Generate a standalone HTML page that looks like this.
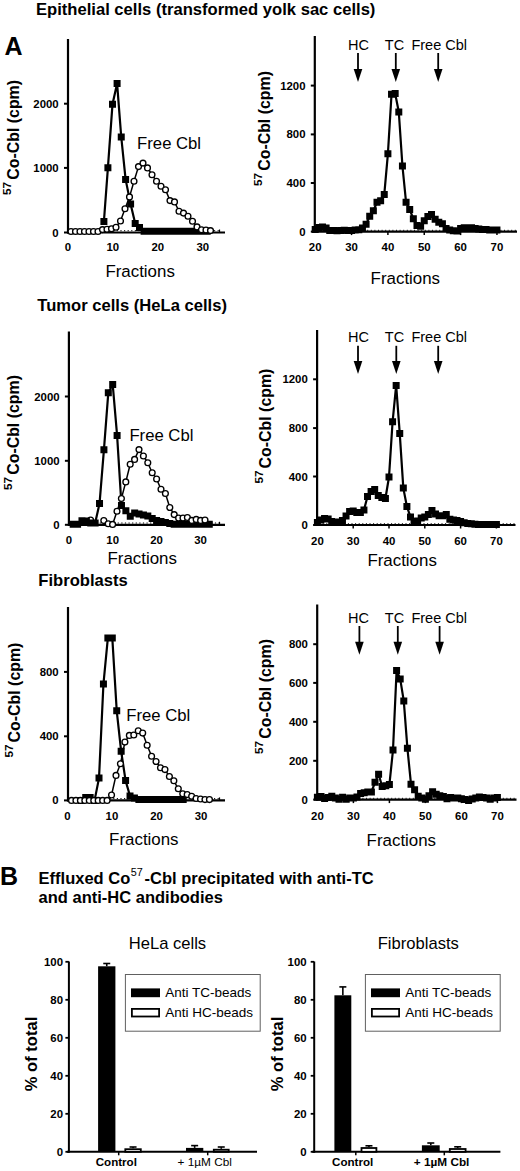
<!DOCTYPE html>
<html><head><meta charset="utf-8"><style>
html,body{margin:0;padding:0;background:#fff;}
body{width:520px;height:1171px;overflow:hidden;}
svg{display:block;font-family:"Liberation Sans", sans-serif;}
text{fill:#000;}
</style></head><body>
<svg width="520" height="1171" viewBox="0 0 520 1171">
<rect width="520" height="1171" fill="#fff"/>
<text x="36" y="14.5" font-size="16.6" font-weight="bold" text-anchor="start" >Epithelial cells (transformed yolk sac cells)</text>
<text x="4.5" y="54.6" font-size="25" font-weight="bold" text-anchor="start" >A</text>
<text x="37.3" y="311.2" font-size="16.6" font-weight="bold" text-anchor="start" >Tumor cells (HeLa cells)</text>
<text x="38.3" y="585.7" font-size="16.6" font-weight="bold" text-anchor="start" >Fibroblasts</text>
<line x1="68" y1="39" x2="68" y2="233.5" stroke="#000" stroke-width="2.2" />
<line x1="67" y1="232.5" x2="225" y2="232.5" stroke="#000" stroke-width="2.2" />
<line x1="219.5" y1="232.5" x2="219.5" y2="229.5" stroke="#000" stroke-width="1.2" />
<line x1="70" y1="230.7" x2="220" y2="230.7" stroke="#000" stroke-width="1" stroke-dasharray="1.2 2.4"/>
<line x1="64" y1="232.5" x2="68" y2="232.5" stroke="#000" stroke-width="2" />
<text x="58.7" y="236.5" font-size="11.4" font-weight="bold" text-anchor="end" >0</text>
<line x1="64" y1="167.9" x2="68" y2="167.9" stroke="#000" stroke-width="2" />
<text x="58.7" y="171.9" font-size="11.4" font-weight="bold" text-anchor="end" >1000</text>
<line x1="64" y1="103.7" x2="68" y2="103.7" stroke="#000" stroke-width="2" />
<text x="58.7" y="107.7" font-size="11.4" font-weight="bold" text-anchor="end" >2000</text>
<text x="67.8" y="251" font-size="11.4" font-weight="bold" text-anchor="middle" >0</text>
<text x="112.8" y="251" font-size="11.4" font-weight="bold" text-anchor="middle" >10</text>
<text x="157.8" y="251" font-size="11.4" font-weight="bold" text-anchor="middle" >20</text>
<text x="202.8" y="251" font-size="11.4" font-weight="bold" text-anchor="middle" >30</text>
<text x="105.4" y="276.5" font-size="16.9" font-weight="normal" text-anchor="start" >Fractions</text>
<text transform="translate(18.9,179.7) rotate(-90)" font-size="15.9" font-weight="bold" text-anchor="start">Co-Cbl (cpm)</text>
<text transform="translate(11.3,194.9) rotate(-90)" font-size="11.7" font-weight="bold" text-anchor="start">57</text>
<text x="137.1" y="148.5" font-size="16.7" font-weight="normal" text-anchor="start" >Free Cbl</text>
<polyline points="103.9,221.5 107.9,167.8 112.5,104.2 117.1,83.6 121.25,137 125.6,179.4 130.6,204.1 135.2,223.5 139.5,227.5 144.1,231.3 148.6,231.3 153.1,231.3 157.6,231.3 162.1,231.3 166.6,231.3 171.1,231.3 175.6,231.3 180.1,231.3 184.6,231.3 189.1,231.3 193.6,231.3 198.1,231.3 202.6,231.3 207.1,231.3" fill="none" stroke="#000" stroke-width="2.2" stroke-linejoin="round"/>
<path d="M100.4 218h7v7h-7zM104.4 164.3h7v7h-7zM109 100.7h7v7h-7zM113.6 80.1h7v7h-7zM117.75 133.5h7v7h-7zM122.1 175.9h7v7h-7zM127.1 200.6h7v7h-7zM131.7 220h7v7h-7zM136 224h7v7h-7zM140.6 227.8h7v7h-7zM145.1 227.8h7v7h-7zM149.6 227.8h7v7h-7zM154.1 227.8h7v7h-7zM158.6 227.8h7v7h-7zM163.1 227.8h7v7h-7zM167.6 227.8h7v7h-7zM172.1 227.8h7v7h-7zM176.6 227.8h7v7h-7zM181.1 227.8h7v7h-7zM185.6 227.8h7v7h-7zM190.1 227.8h7v7h-7zM194.6 227.8h7v7h-7zM199.1 227.8h7v7h-7zM203.6 227.8h7v7h-7z" fill="#000"/>
<polyline points="71,231.5 75.5,231.5 80,231.5 84.5,231.5 89,231.5 93.5,231.5 98,231.5 102.5,229.6 107,229.2 111.5,228.8 116,227.2 120.5,221 125,208.75 129.5,196.9 134,181.25 138.5,166.6 143,163.1 147.5,167.9 152,174.75 156.5,181.25 161,186.25 165.5,189.75 170,200.6 174.5,201.9 179,211.25 183.5,213.1 188,216.25 192.5,221.25 197,226.9 201.5,229.75 206,230 210.5,230.6" fill="none" stroke="#000" stroke-width="1.5" stroke-linejoin="round"/>
<circle cx="71" cy="231.5" r="2.9" fill="#fff" stroke="#000" stroke-width="1.35"/>
<circle cx="75.5" cy="231.5" r="2.9" fill="#fff" stroke="#000" stroke-width="1.35"/>
<circle cx="80" cy="231.5" r="2.9" fill="#fff" stroke="#000" stroke-width="1.35"/>
<circle cx="84.5" cy="231.5" r="2.9" fill="#fff" stroke="#000" stroke-width="1.35"/>
<circle cx="89" cy="231.5" r="2.9" fill="#fff" stroke="#000" stroke-width="1.35"/>
<circle cx="93.5" cy="231.5" r="2.9" fill="#fff" stroke="#000" stroke-width="1.35"/>
<circle cx="98" cy="231.5" r="2.9" fill="#fff" stroke="#000" stroke-width="1.35"/>
<circle cx="102.5" cy="229.6" r="2.9" fill="#fff" stroke="#000" stroke-width="1.35"/>
<circle cx="107" cy="229.2" r="2.9" fill="#fff" stroke="#000" stroke-width="1.35"/>
<circle cx="111.5" cy="228.8" r="2.9" fill="#fff" stroke="#000" stroke-width="1.35"/>
<circle cx="116" cy="227.2" r="2.9" fill="#fff" stroke="#000" stroke-width="1.35"/>
<circle cx="120.5" cy="221" r="2.9" fill="#fff" stroke="#000" stroke-width="1.35"/>
<circle cx="125" cy="208.75" r="2.9" fill="#fff" stroke="#000" stroke-width="1.35"/>
<circle cx="129.5" cy="196.9" r="2.9" fill="#fff" stroke="#000" stroke-width="1.35"/>
<circle cx="134" cy="181.25" r="2.9" fill="#fff" stroke="#000" stroke-width="1.35"/>
<circle cx="138.5" cy="166.6" r="2.9" fill="#fff" stroke="#000" stroke-width="1.35"/>
<circle cx="143" cy="163.1" r="2.9" fill="#fff" stroke="#000" stroke-width="1.35"/>
<circle cx="147.5" cy="167.9" r="2.9" fill="#fff" stroke="#000" stroke-width="1.35"/>
<circle cx="152" cy="174.75" r="2.9" fill="#fff" stroke="#000" stroke-width="1.35"/>
<circle cx="156.5" cy="181.25" r="2.9" fill="#fff" stroke="#000" stroke-width="1.35"/>
<circle cx="161" cy="186.25" r="2.9" fill="#fff" stroke="#000" stroke-width="1.35"/>
<circle cx="165.5" cy="189.75" r="2.9" fill="#fff" stroke="#000" stroke-width="1.35"/>
<circle cx="170" cy="200.6" r="2.9" fill="#fff" stroke="#000" stroke-width="1.35"/>
<circle cx="174.5" cy="201.9" r="2.9" fill="#fff" stroke="#000" stroke-width="1.35"/>
<circle cx="179" cy="211.25" r="2.9" fill="#fff" stroke="#000" stroke-width="1.35"/>
<circle cx="183.5" cy="213.1" r="2.9" fill="#fff" stroke="#000" stroke-width="1.35"/>
<circle cx="188" cy="216.25" r="2.9" fill="#fff" stroke="#000" stroke-width="1.35"/>
<circle cx="192.5" cy="221.25" r="2.9" fill="#fff" stroke="#000" stroke-width="1.35"/>
<circle cx="197" cy="226.9" r="2.9" fill="#fff" stroke="#000" stroke-width="1.35"/>
<circle cx="201.5" cy="229.75" r="2.9" fill="#fff" stroke="#000" stroke-width="1.35"/>
<circle cx="206" cy="230" r="2.9" fill="#fff" stroke="#000" stroke-width="1.35"/>
<circle cx="210.5" cy="230.6" r="2.9" fill="#fff" stroke="#000" stroke-width="1.35"/>
<line x1="68.9" y1="331.5" x2="68.9" y2="525.8" stroke="#000" stroke-width="2.2" />
<line x1="67.9" y1="524.8" x2="225" y2="524.8" stroke="#000" stroke-width="2.2" />
<line x1="219.5" y1="524.8" x2="219.5" y2="521.8" stroke="#000" stroke-width="1.2" />
<line x1="70.9" y1="523" x2="220" y2="523" stroke="#000" stroke-width="1" stroke-dasharray="1.2 2.4"/>
<line x1="64.9" y1="524.8" x2="68.9" y2="524.8" stroke="#000" stroke-width="2" />
<text x="59.6" y="528.8" font-size="11.4" font-weight="bold" text-anchor="end" >0</text>
<line x1="64.9" y1="460.8" x2="68.9" y2="460.8" stroke="#000" stroke-width="2" />
<text x="59.6" y="464.8" font-size="11.4" font-weight="bold" text-anchor="end" >1000</text>
<line x1="64.9" y1="396.5" x2="68.9" y2="396.5" stroke="#000" stroke-width="2" />
<text x="59.6" y="400.5" font-size="11.4" font-weight="bold" text-anchor="end" >2000</text>
<text x="68.8" y="543.8" font-size="11.4" font-weight="bold" text-anchor="middle" >0</text>
<text x="112.7" y="543.8" font-size="11.4" font-weight="bold" text-anchor="middle" >10</text>
<text x="156.6" y="543.8" font-size="11.4" font-weight="bold" text-anchor="middle" >20</text>
<text x="200.5" y="543.8" font-size="11.4" font-weight="bold" text-anchor="middle" >30</text>
<text x="107.5" y="563.8" font-size="16.9" font-weight="normal" text-anchor="start" >Fractions</text>
<text transform="translate(19.2,474.8) rotate(-90)" font-size="15.9" font-weight="bold" text-anchor="start">Co-Cbl (cpm)</text>
<text transform="translate(11.6,490) rotate(-90)" font-size="11.7" font-weight="bold" text-anchor="start">57</text>
<text x="129.4" y="441.1" font-size="16.7" font-weight="normal" text-anchor="start" >Free Cbl</text>
<circle cx="90.6" cy="520" r="2.9" fill="#fff" stroke="#000" stroke-width="1.35"/>
<polyline points="73.19,524.2 77.58,524.2 81.97,520.7 86.36,521 90.75,523 95.14,523 99.53,503.6 103.92,449.8 108.31,392.7 112.7,384.4 117.09,435.4 121.48,505.5 125.87,510.8 130.26,516.3 134.65,513.1 139.04,514 143.43,515 147.82,516 152.21,518.6 156.6,520.5 160.99,521.5 165.38,522.5 169.77,523.5 174.16,524.2 178.55,524.2 182.94,524.2 187.33,524.2 191.72,524.2 196.11,524.2 200.5,524.2 204.89,524.2 209.28,524.2" fill="none" stroke="#000" stroke-width="2.2" stroke-linejoin="round"/>
<path d="M69.69 520.7h7v7h-7zM74.08 520.7h7v7h-7zM78.47 517.2h7v7h-7zM82.86 517.5h7v7h-7zM87.25 519.5h7v7h-7zM91.64 519.5h7v7h-7zM96.03 500.1h7v7h-7zM100.42 446.3h7v7h-7zM104.81 389.2h7v7h-7zM109.2 380.9h7v7h-7zM113.59 431.9h7v7h-7zM117.98 502h7v7h-7zM122.37 507.3h7v7h-7zM126.76 512.8h7v7h-7zM131.15 509.6h7v7h-7zM135.54 510.5h7v7h-7zM139.93 511.5h7v7h-7zM144.32 512.5h7v7h-7zM148.71 515.1h7v7h-7zM153.1 517h7v7h-7zM157.49 518h7v7h-7zM161.88 519h7v7h-7zM166.27 520h7v7h-7zM170.66 520.7h7v7h-7zM175.05 520.7h7v7h-7zM179.44 520.7h7v7h-7zM183.83 520.7h7v7h-7zM188.22 520.7h7v7h-7zM192.61 520.7h7v7h-7zM197 520.7h7v7h-7zM201.39 520.7h7v7h-7zM205.78 520.7h7v7h-7z" fill="#000"/>
<polyline points="103.8,520.6 108.2,523.75 112.6,524.4 117,511.25 121.4,498.5 125.8,481.9 130.2,464.2 134.6,459.4 139,449.6 143.4,456 147.8,462.7 152.2,472.7 156.6,479 161,489.2 165.4,493.5 169.8,507.5 174.2,514.6 178.6,518.1 183,518.1 187.4,517.5 191.8,520.4 196.2,519.4 200.6,520.4 205,520" fill="none" stroke="#000" stroke-width="1.5" stroke-linejoin="round"/>
<circle cx="103.8" cy="520.6" r="2.9" fill="#fff" stroke="#000" stroke-width="1.35"/>
<circle cx="108.2" cy="523.75" r="2.9" fill="#fff" stroke="#000" stroke-width="1.35"/>
<circle cx="112.6" cy="524.4" r="2.9" fill="#fff" stroke="#000" stroke-width="1.35"/>
<circle cx="117" cy="511.25" r="2.9" fill="#fff" stroke="#000" stroke-width="1.35"/>
<circle cx="121.4" cy="498.5" r="2.9" fill="#fff" stroke="#000" stroke-width="1.35"/>
<circle cx="125.8" cy="481.9" r="2.9" fill="#fff" stroke="#000" stroke-width="1.35"/>
<circle cx="130.2" cy="464.2" r="2.9" fill="#fff" stroke="#000" stroke-width="1.35"/>
<circle cx="134.6" cy="459.4" r="2.9" fill="#fff" stroke="#000" stroke-width="1.35"/>
<circle cx="139" cy="449.6" r="2.9" fill="#fff" stroke="#000" stroke-width="1.35"/>
<circle cx="143.4" cy="456" r="2.9" fill="#fff" stroke="#000" stroke-width="1.35"/>
<circle cx="147.8" cy="462.7" r="2.9" fill="#fff" stroke="#000" stroke-width="1.35"/>
<circle cx="152.2" cy="472.7" r="2.9" fill="#fff" stroke="#000" stroke-width="1.35"/>
<circle cx="156.6" cy="479" r="2.9" fill="#fff" stroke="#000" stroke-width="1.35"/>
<circle cx="161" cy="489.2" r="2.9" fill="#fff" stroke="#000" stroke-width="1.35"/>
<circle cx="165.4" cy="493.5" r="2.9" fill="#fff" stroke="#000" stroke-width="1.35"/>
<circle cx="169.8" cy="507.5" r="2.9" fill="#fff" stroke="#000" stroke-width="1.35"/>
<circle cx="174.2" cy="514.6" r="2.9" fill="#fff" stroke="#000" stroke-width="1.35"/>
<circle cx="178.6" cy="518.1" r="2.9" fill="#fff" stroke="#000" stroke-width="1.35"/>
<circle cx="183" cy="518.1" r="2.9" fill="#fff" stroke="#000" stroke-width="1.35"/>
<circle cx="187.4" cy="517.5" r="2.9" fill="#fff" stroke="#000" stroke-width="1.35"/>
<circle cx="191.8" cy="520.4" r="2.9" fill="#fff" stroke="#000" stroke-width="1.35"/>
<circle cx="196.2" cy="519.4" r="2.9" fill="#fff" stroke="#000" stroke-width="1.35"/>
<circle cx="200.6" cy="520.4" r="2.9" fill="#fff" stroke="#000" stroke-width="1.35"/>
<circle cx="205" cy="520" r="2.9" fill="#fff" stroke="#000" stroke-width="1.35"/>
<line x1="68" y1="607" x2="68" y2="801.4" stroke="#000" stroke-width="2.2" />
<line x1="67" y1="800.4" x2="225" y2="800.4" stroke="#000" stroke-width="2.2" />
<line x1="219.5" y1="800.4" x2="219.5" y2="797.4" stroke="#000" stroke-width="1.2" />
<line x1="70" y1="798.6" x2="220" y2="798.6" stroke="#000" stroke-width="1" stroke-dasharray="1.2 2.4"/>
<line x1="64" y1="800.4" x2="68" y2="800.4" stroke="#000" stroke-width="2" />
<text x="58.7" y="804.4" font-size="11.4" font-weight="bold" text-anchor="end" >0</text>
<line x1="64" y1="736.3" x2="68" y2="736.3" stroke="#000" stroke-width="2" />
<text x="58.7" y="740.3" font-size="11.4" font-weight="bold" text-anchor="end" >400</text>
<line x1="64" y1="671.9" x2="68" y2="671.9" stroke="#000" stroke-width="2" />
<text x="58.7" y="675.9" font-size="11.4" font-weight="bold" text-anchor="end" >800</text>
<text x="67.3" y="819.8" font-size="11.4" font-weight="bold" text-anchor="middle" >0</text>
<text x="111.9" y="819.8" font-size="11.4" font-weight="bold" text-anchor="middle" >10</text>
<text x="156.5" y="819.8" font-size="11.4" font-weight="bold" text-anchor="middle" >20</text>
<text x="201.1" y="819.8" font-size="11.4" font-weight="bold" text-anchor="middle" >30</text>
<text x="109.1" y="845" font-size="16.9" font-weight="normal" text-anchor="start" >Fractions</text>
<text transform="translate(20.3,742.4) rotate(-90)" font-size="15.9" font-weight="bold" text-anchor="start">Co-Cbl (cpm)</text>
<text transform="translate(12.7,757.6) rotate(-90)" font-size="11.7" font-weight="bold" text-anchor="start">57</text>
<text x="126.2" y="720.5" font-size="16.7" font-weight="normal" text-anchor="start" >Free Cbl</text>
<polyline points="81.29,800.4 85.72,797.6 90.15,797.6 94.58,800.4 99.01,778.1 103.44,684 107.87,637.9 112.3,637.9 116.73,710.8 121.16,751.3 125.59,780.6 130.02,796 134.45,797.9 138.88,799.5 143.31,799.5 147.74,799.5 152.17,799.5 156.6,799.5 161.03,799.5 165.46,799.5 169.89,799.5 174.32,799.5 178.75,799.5 183.18,799.5" fill="none" stroke="#000" stroke-width="2.2" stroke-linejoin="round"/>
<path d="M77.79 796.9h7v7h-7zM82.22 794.1h7v7h-7zM86.65 794.1h7v7h-7zM91.08 796.9h7v7h-7zM95.51 774.6h7v7h-7zM99.94 680.5h7v7h-7zM104.37 634.4h7v7h-7zM108.8 634.4h7v7h-7zM113.23 707.3h7v7h-7zM117.66 747.8h7v7h-7zM122.09 777.1h7v7h-7zM126.52 792.5h7v7h-7zM130.95 794.4h7v7h-7zM135.38 796h7v7h-7zM139.81 796h7v7h-7zM144.24 796h7v7h-7zM148.67 796h7v7h-7zM153.1 796h7v7h-7zM157.53 796h7v7h-7zM161.96 796h7v7h-7zM166.39 796h7v7h-7zM170.82 796h7v7h-7zM175.25 796h7v7h-7zM179.68 796h7v7h-7z" fill="#000"/>
<polyline points="71.5,800.4 75.95,800.4 80.4,800.4 84.85,800.4 89.3,800.4 93.75,800.4 98.2,800.4 102.65,800.4 107.1,800.4 111.55,795 116,775.4 120.45,763.8 124.9,742.1 129.35,735.4 133.8,735 138.25,730.8 142.7,733.1 147.15,745.2 151.6,756.2 156.05,761.5 160.5,767.7 164.95,769.6 169.4,776.5 173.85,780.8 178.3,788.8 182.75,793.8 187.2,794.6 191.65,796.2 196.1,798.5 200.55,799 205,799.6 209.45,799.6" fill="none" stroke="#000" stroke-width="1.5" stroke-linejoin="round"/>
<circle cx="71.5" cy="800.4" r="2.9" fill="#fff" stroke="#000" stroke-width="1.35"/>
<circle cx="75.95" cy="800.4" r="2.9" fill="#fff" stroke="#000" stroke-width="1.35"/>
<circle cx="80.4" cy="800.4" r="2.9" fill="#fff" stroke="#000" stroke-width="1.35"/>
<circle cx="84.85" cy="800.4" r="2.9" fill="#fff" stroke="#000" stroke-width="1.35"/>
<circle cx="89.3" cy="800.4" r="2.9" fill="#fff" stroke="#000" stroke-width="1.35"/>
<circle cx="93.75" cy="800.4" r="2.9" fill="#fff" stroke="#000" stroke-width="1.35"/>
<circle cx="98.2" cy="800.4" r="2.9" fill="#fff" stroke="#000" stroke-width="1.35"/>
<circle cx="102.65" cy="800.4" r="2.9" fill="#fff" stroke="#000" stroke-width="1.35"/>
<circle cx="107.1" cy="800.4" r="2.9" fill="#fff" stroke="#000" stroke-width="1.35"/>
<circle cx="111.55" cy="795" r="2.9" fill="#fff" stroke="#000" stroke-width="1.35"/>
<circle cx="116" cy="775.4" r="2.9" fill="#fff" stroke="#000" stroke-width="1.35"/>
<circle cx="120.45" cy="763.8" r="2.9" fill="#fff" stroke="#000" stroke-width="1.35"/>
<circle cx="124.9" cy="742.1" r="2.9" fill="#fff" stroke="#000" stroke-width="1.35"/>
<circle cx="129.35" cy="735.4" r="2.9" fill="#fff" stroke="#000" stroke-width="1.35"/>
<circle cx="133.8" cy="735" r="2.9" fill="#fff" stroke="#000" stroke-width="1.35"/>
<circle cx="138.25" cy="730.8" r="2.9" fill="#fff" stroke="#000" stroke-width="1.35"/>
<circle cx="142.7" cy="733.1" r="2.9" fill="#fff" stroke="#000" stroke-width="1.35"/>
<circle cx="147.15" cy="745.2" r="2.9" fill="#fff" stroke="#000" stroke-width="1.35"/>
<circle cx="151.6" cy="756.2" r="2.9" fill="#fff" stroke="#000" stroke-width="1.35"/>
<circle cx="156.05" cy="761.5" r="2.9" fill="#fff" stroke="#000" stroke-width="1.35"/>
<circle cx="160.5" cy="767.7" r="2.9" fill="#fff" stroke="#000" stroke-width="1.35"/>
<circle cx="164.95" cy="769.6" r="2.9" fill="#fff" stroke="#000" stroke-width="1.35"/>
<circle cx="169.4" cy="776.5" r="2.9" fill="#fff" stroke="#000" stroke-width="1.35"/>
<circle cx="173.85" cy="780.8" r="2.9" fill="#fff" stroke="#000" stroke-width="1.35"/>
<circle cx="178.3" cy="788.8" r="2.9" fill="#fff" stroke="#000" stroke-width="1.35"/>
<circle cx="182.75" cy="793.8" r="2.9" fill="#fff" stroke="#000" stroke-width="1.35"/>
<circle cx="187.2" cy="794.6" r="2.9" fill="#fff" stroke="#000" stroke-width="1.35"/>
<circle cx="191.65" cy="796.2" r="2.9" fill="#fff" stroke="#000" stroke-width="1.35"/>
<circle cx="196.1" cy="798.5" r="2.9" fill="#fff" stroke="#000" stroke-width="1.35"/>
<circle cx="200.55" cy="799" r="2.9" fill="#fff" stroke="#000" stroke-width="1.35"/>
<circle cx="205" cy="799.6" r="2.9" fill="#fff" stroke="#000" stroke-width="1.35"/>
<circle cx="209.45" cy="799.6" r="2.9" fill="#fff" stroke="#000" stroke-width="1.35"/>
<line x1="314.8" y1="36" x2="314.8" y2="232.6" stroke="#000" stroke-width="2.2" />
<line x1="313.8" y1="231.6" x2="517" y2="231.6" stroke="#000" stroke-width="2.2" />
<line x1="316.8" y1="230.3" x2="517" y2="230.3" stroke="#000" stroke-width="1" stroke-dasharray="1 2.6"/>
<line x1="310.8" y1="231.6" x2="314.8" y2="231.6" stroke="#000" stroke-width="2" />
<text x="305.5" y="235.6" font-size="11.4" font-weight="bold" text-anchor="end" >0</text>
<line x1="310.8" y1="183" x2="314.8" y2="183" stroke="#000" stroke-width="2" />
<text x="305.5" y="187" font-size="11.4" font-weight="bold" text-anchor="end" >400</text>
<line x1="310.8" y1="134.4" x2="314.8" y2="134.4" stroke="#000" stroke-width="2" />
<text x="305.5" y="138.4" font-size="11.4" font-weight="bold" text-anchor="end" >800</text>
<line x1="310.8" y1="85.6" x2="314.8" y2="85.6" stroke="#000" stroke-width="2" />
<text x="305.5" y="89.6" font-size="11.4" font-weight="bold" text-anchor="end" >1200</text>
<text x="315.2" y="251.2" font-size="11.4" font-weight="bold" text-anchor="middle" >20</text>
<line x1="351.55" y1="231.6" x2="351.55" y2="235.1" stroke="#000" stroke-width="1.5" />
<text x="351.55" y="251.2" font-size="11.4" font-weight="bold" text-anchor="middle" >30</text>
<line x1="387.9" y1="231.6" x2="387.9" y2="235.1" stroke="#000" stroke-width="1.5" />
<text x="387.9" y="251.2" font-size="11.4" font-weight="bold" text-anchor="middle" >40</text>
<line x1="424.25" y1="231.6" x2="424.25" y2="235.1" stroke="#000" stroke-width="1.5" />
<text x="424.25" y="251.2" font-size="11.4" font-weight="bold" text-anchor="middle" >50</text>
<line x1="460.6" y1="231.6" x2="460.6" y2="235.1" stroke="#000" stroke-width="1.5" />
<text x="460.6" y="251.2" font-size="11.4" font-weight="bold" text-anchor="middle" >60</text>
<line x1="496.95" y1="231.6" x2="496.95" y2="235.1" stroke="#000" stroke-width="1.5" />
<text x="496.95" y="251.2" font-size="11.4" font-weight="bold" text-anchor="middle" >70</text>
<text x="370.6" y="284.2" font-size="16.9" font-weight="normal" text-anchor="start" >Fractions</text>
<text transform="translate(270,170.8) rotate(-90)" font-size="15.9" font-weight="bold" text-anchor="start">Co-Cbl (cpm)</text>
<text transform="translate(262.4,186) rotate(-90)" font-size="11.7" font-weight="bold" text-anchor="start">57</text>
<text x="358.4" y="50" font-size="14.5" font-weight="normal" text-anchor="middle" >HC</text>
<line x1="358" y1="53" x2="358" y2="70" stroke="#000" stroke-width="1.8" />
<path d="M353.7 69L362.3 69L358 82z" fill="#000"/>
<text x="394.5" y="50" font-size="14.5" font-weight="normal" text-anchor="middle" >TC</text>
<line x1="395.8" y1="53" x2="395.8" y2="70" stroke="#000" stroke-width="1.8" />
<path d="M391.5 69L400.1 69L395.8 82z" fill="#000"/>
<text x="439.2" y="50" font-size="14.5" font-weight="normal" text-anchor="middle" >Free Cbl</text>
<line x1="438.2" y1="53" x2="438.2" y2="70" stroke="#000" stroke-width="1.8" />
<path d="M433.9 69L442.5 69L438.2 82z" fill="#000"/>
<polyline points="315.2,229.5 318.83,227.5 322.47,227 326.1,228 329.74,230.5 333.38,230.5 337.01,230.8 340.64,230.5 344.28,230.3 347.91,230.5 351.55,230.5 355.19,230 358.82,229.8 362.45,228 366.09,224.2 369.72,216.2 373.36,210.8 377,202.3 380.63,200.8 384.26,194.6 387.9,153.8 391.53,94.2 395.17,93.5 398.8,112 402.44,166 406.07,202.3 409.71,209.5 413.34,218.8 416.98,225.4 420.62,226.2 424.25,220.8 427.88,216.6 431.52,214.6 435.15,219.2 438.79,222.3 442.42,223.8 446.06,228.5 449.69,230 453.33,230.8 456.96,231 460.6,228.5 464.24,227.7 467.87,227.7 471.5,227.7 475.14,228.5 478.77,229 482.41,229.5 486.04,229.5 489.68,230 493.31,230 496.95,230" fill="none" stroke="#000" stroke-width="2.2" stroke-linejoin="round"/>
<path d="M311.7 226h7v7h-7zM315.33 224h7v7h-7zM318.97 223.5h7v7h-7zM322.6 224.5h7v7h-7zM326.24 227h7v7h-7zM329.88 227h7v7h-7zM333.51 227.3h7v7h-7zM337.14 227h7v7h-7zM340.78 226.8h7v7h-7zM344.41 227h7v7h-7zM348.05 227h7v7h-7zM351.69 226.5h7v7h-7zM355.32 226.3h7v7h-7zM358.95 224.5h7v7h-7zM362.59 220.7h7v7h-7zM366.22 212.7h7v7h-7zM369.86 207.3h7v7h-7zM373.5 198.8h7v7h-7zM377.13 197.3h7v7h-7zM380.76 191.1h7v7h-7zM384.4 150.3h7v7h-7zM388.03 90.7h7v7h-7zM391.67 90h7v7h-7zM395.3 108.5h7v7h-7zM398.94 162.5h7v7h-7zM402.57 198.8h7v7h-7zM406.21 206h7v7h-7zM409.84 215.3h7v7h-7zM413.48 221.9h7v7h-7zM417.12 222.7h7v7h-7zM420.75 217.3h7v7h-7zM424.38 213.1h7v7h-7zM428.02 211.1h7v7h-7zM431.65 215.7h7v7h-7zM435.29 218.8h7v7h-7zM438.92 220.3h7v7h-7zM442.56 225h7v7h-7zM446.19 226.5h7v7h-7zM449.83 227.3h7v7h-7zM453.46 227.5h7v7h-7zM457.1 225h7v7h-7zM460.74 224.2h7v7h-7zM464.37 224.2h7v7h-7zM468 224.2h7v7h-7zM471.64 225h7v7h-7zM475.27 225.5h7v7h-7zM478.91 226h7v7h-7zM482.54 226h7v7h-7zM486.18 226.5h7v7h-7zM489.81 226.5h7v7h-7zM493.45 226.5h7v7h-7z" fill="#000"/>
<line x1="317.1" y1="330" x2="317.1" y2="526" stroke="#000" stroke-width="2.2" />
<line x1="316.1" y1="525" x2="515.5" y2="525" stroke="#000" stroke-width="2.2" />
<line x1="319.1" y1="523.7" x2="515.5" y2="523.7" stroke="#000" stroke-width="1" stroke-dasharray="1 2.6"/>
<line x1="313.1" y1="525" x2="317.1" y2="525" stroke="#000" stroke-width="2" />
<text x="307.8" y="529" font-size="11.4" font-weight="bold" text-anchor="end" >0</text>
<line x1="313.1" y1="476.5" x2="317.1" y2="476.5" stroke="#000" stroke-width="2" />
<text x="307.8" y="480.5" font-size="11.4" font-weight="bold" text-anchor="end" >400</text>
<line x1="313.1" y1="428.1" x2="317.1" y2="428.1" stroke="#000" stroke-width="2" />
<text x="307.8" y="432.1" font-size="11.4" font-weight="bold" text-anchor="end" >800</text>
<line x1="313.1" y1="379.3" x2="317.1" y2="379.3" stroke="#000" stroke-width="2" />
<text x="307.8" y="383.3" font-size="11.4" font-weight="bold" text-anchor="end" >1200</text>
<text x="317.4" y="545.1" font-size="11.4" font-weight="bold" text-anchor="middle" >20</text>
<line x1="353.2" y1="525" x2="353.2" y2="528.5" stroke="#000" stroke-width="1.5" />
<text x="353.2" y="545.1" font-size="11.4" font-weight="bold" text-anchor="middle" >30</text>
<line x1="389" y1="525" x2="389" y2="528.5" stroke="#000" stroke-width="1.5" />
<text x="389" y="545.1" font-size="11.4" font-weight="bold" text-anchor="middle" >40</text>
<line x1="424.8" y1="525" x2="424.8" y2="528.5" stroke="#000" stroke-width="1.5" />
<text x="424.8" y="545.1" font-size="11.4" font-weight="bold" text-anchor="middle" >50</text>
<line x1="460.6" y1="525" x2="460.6" y2="528.5" stroke="#000" stroke-width="1.5" />
<text x="460.6" y="545.1" font-size="11.4" font-weight="bold" text-anchor="middle" >60</text>
<line x1="496.4" y1="525" x2="496.4" y2="528.5" stroke="#000" stroke-width="1.5" />
<text x="496.4" y="545.1" font-size="11.4" font-weight="bold" text-anchor="middle" >70</text>
<text x="367.4" y="566.4" font-size="16.9" font-weight="normal" text-anchor="start" >Fractions</text>
<text transform="translate(271,468.4) rotate(-90)" font-size="15.9" font-weight="bold" text-anchor="start">Co-Cbl (cpm)</text>
<text transform="translate(263.4,483.6) rotate(-90)" font-size="11.7" font-weight="bold" text-anchor="start">57</text>
<text x="358.4" y="342.3" font-size="14.5" font-weight="normal" text-anchor="middle" >HC</text>
<line x1="358" y1="345.8" x2="358" y2="362" stroke="#000" stroke-width="1.8" />
<path d="M353.7 361L362.3 361L358 374z" fill="#000"/>
<text x="394.5" y="342.3" font-size="14.5" font-weight="normal" text-anchor="middle" >TC</text>
<line x1="396.3" y1="345.8" x2="396.3" y2="362" stroke="#000" stroke-width="1.8" />
<path d="M392 361L400.6 361L396.3 374z" fill="#000"/>
<text x="439.2" y="342.3" font-size="14.5" font-weight="normal" text-anchor="middle" >Free Cbl</text>
<line x1="438.2" y1="345.8" x2="438.2" y2="362" stroke="#000" stroke-width="1.8" />
<path d="M433.9 361L442.5 361L438.2 374z" fill="#000"/>
<polyline points="317.4,522.5 320.98,520 324.56,518.5 328.14,519 331.72,521.5 335.3,522.5 338.88,522 342.46,520.5 346.04,516 349.62,511.5 353.2,511 356.78,512.5 360.36,512.5 363.94,510 367.52,496.5 371.1,491.5 374.68,489.5 378.26,495.5 381.84,497.5 385.42,498.5 389,477 392.58,421.8 396.16,385.4 399.74,433.4 403.32,488.1 406.9,506.5 410.48,516.9 414.06,521.5 417.64,521 421.22,518 424.8,516.9 428.38,514.6 431.96,510.5 435.54,514 439.12,515.8 442.7,515.8 446.28,514.6 449.86,519.2 453.44,520 457.02,520.4 460.6,521.5 464.18,522.7 467.76,523.5 471.34,523.8 474.92,524.3 478.5,524.5 482.08,524.5 485.66,524.5 489.24,524.5 492.82,524.5 496.4,524.5" fill="none" stroke="#000" stroke-width="2.2" stroke-linejoin="round"/>
<path d="M313.9 519h7v7h-7zM317.48 516.5h7v7h-7zM321.06 515h7v7h-7zM324.64 515.5h7v7h-7zM328.22 518h7v7h-7zM331.8 519h7v7h-7zM335.38 518.5h7v7h-7zM338.96 517h7v7h-7zM342.54 512.5h7v7h-7zM346.12 508h7v7h-7zM349.7 507.5h7v7h-7zM353.28 509h7v7h-7zM356.86 509h7v7h-7zM360.44 506.5h7v7h-7zM364.02 493h7v7h-7zM367.6 488h7v7h-7zM371.18 486h7v7h-7zM374.76 492h7v7h-7zM378.34 494h7v7h-7zM381.92 495h7v7h-7zM385.5 473.5h7v7h-7zM389.08 418.3h7v7h-7zM392.66 381.9h7v7h-7zM396.24 429.9h7v7h-7zM399.82 484.6h7v7h-7zM403.4 503h7v7h-7zM406.98 513.4h7v7h-7zM410.56 518h7v7h-7zM414.14 517.5h7v7h-7zM417.72 514.5h7v7h-7zM421.3 513.4h7v7h-7zM424.88 511.1h7v7h-7zM428.46 507h7v7h-7zM432.04 510.5h7v7h-7zM435.62 512.3h7v7h-7zM439.2 512.3h7v7h-7zM442.78 511.1h7v7h-7zM446.36 515.7h7v7h-7zM449.94 516.5h7v7h-7zM453.52 516.9h7v7h-7zM457.1 518h7v7h-7zM460.68 519.2h7v7h-7zM464.26 520h7v7h-7zM467.84 520.3h7v7h-7zM471.42 520.8h7v7h-7zM475 521h7v7h-7zM478.58 521h7v7h-7zM482.16 521h7v7h-7zM485.74 521h7v7h-7zM489.32 521h7v7h-7zM492.9 521h7v7h-7z" fill="#000"/>
<line x1="317.2" y1="604.5" x2="317.2" y2="800.6" stroke="#000" stroke-width="2.2" />
<line x1="316.2" y1="799.6" x2="516.5" y2="799.6" stroke="#000" stroke-width="2.2" />
<line x1="319.2" y1="798.3" x2="516.5" y2="798.3" stroke="#000" stroke-width="1" stroke-dasharray="1 2.6"/>
<line x1="313.2" y1="799.6" x2="317.2" y2="799.6" stroke="#000" stroke-width="2" />
<text x="307.9" y="803.6" font-size="11.4" font-weight="bold" text-anchor="end" >0</text>
<line x1="313.2" y1="760.8" x2="317.2" y2="760.8" stroke="#000" stroke-width="2" />
<text x="307.9" y="764.8" font-size="11.4" font-weight="bold" text-anchor="end" >200</text>
<line x1="313.2" y1="721.8" x2="317.2" y2="721.8" stroke="#000" stroke-width="2" />
<text x="307.9" y="725.8" font-size="11.4" font-weight="bold" text-anchor="end" >400</text>
<line x1="313.2" y1="682.9" x2="317.2" y2="682.9" stroke="#000" stroke-width="2" />
<text x="307.9" y="686.9" font-size="11.4" font-weight="bold" text-anchor="end" >600</text>
<line x1="313.2" y1="644.2" x2="317.2" y2="644.2" stroke="#000" stroke-width="2" />
<text x="307.9" y="648.2" font-size="11.4" font-weight="bold" text-anchor="end" >800</text>
<text x="317.4" y="820.1" font-size="11.4" font-weight="bold" text-anchor="middle" >20</text>
<line x1="353.4" y1="799.6" x2="353.4" y2="803.1" stroke="#000" stroke-width="1.5" />
<text x="353.4" y="820.1" font-size="11.4" font-weight="bold" text-anchor="middle" >30</text>
<line x1="389.4" y1="799.6" x2="389.4" y2="803.1" stroke="#000" stroke-width="1.5" />
<text x="389.4" y="820.1" font-size="11.4" font-weight="bold" text-anchor="middle" >40</text>
<line x1="425.4" y1="799.6" x2="425.4" y2="803.1" stroke="#000" stroke-width="1.5" />
<text x="425.4" y="820.1" font-size="11.4" font-weight="bold" text-anchor="middle" >50</text>
<line x1="461.4" y1="799.6" x2="461.4" y2="803.1" stroke="#000" stroke-width="1.5" />
<text x="461.4" y="820.1" font-size="11.4" font-weight="bold" text-anchor="middle" >60</text>
<line x1="497.4" y1="799.6" x2="497.4" y2="803.1" stroke="#000" stroke-width="1.5" />
<text x="497.4" y="820.1" font-size="11.4" font-weight="bold" text-anchor="middle" >70</text>
<text x="366.6" y="846.2" font-size="16.9" font-weight="normal" text-anchor="start" >Fractions</text>
<text transform="translate(271,738.8) rotate(-90)" font-size="15.9" font-weight="bold" text-anchor="start">Co-Cbl (cpm)</text>
<text transform="translate(263.4,754) rotate(-90)" font-size="11.7" font-weight="bold" text-anchor="start">57</text>
<text x="358.4" y="622.5" font-size="14.5" font-weight="normal" text-anchor="middle" >HC</text>
<line x1="359.4" y1="626" x2="359.4" y2="642.8" stroke="#000" stroke-width="1.8" />
<path d="M355.1 641.8L363.7 641.8L359.4 654.8z" fill="#000"/>
<text x="394.5" y="622.5" font-size="14.5" font-weight="normal" text-anchor="middle" >TC</text>
<line x1="397.8" y1="626" x2="397.8" y2="642.8" stroke="#000" stroke-width="1.8" />
<path d="M393.5 641.8L402.1 641.8L397.8 654.8z" fill="#000"/>
<text x="439.2" y="622.5" font-size="14.5" font-weight="normal" text-anchor="middle" >Free Cbl</text>
<line x1="439.6" y1="626" x2="439.6" y2="642.8" stroke="#000" stroke-width="1.8" />
<path d="M435.3 641.8L443.9 641.8L439.6 654.8z" fill="#000"/>
<polyline points="317.4,797.3 321,796.6 324.6,798.5 328.2,797.5 331.8,796.2 335.4,798 339,799.2 342.6,797.3 346.2,799.2 349.8,798 353.4,798 357,797 360.6,793.4 364.2,792.7 367.8,792 371.4,792 375,782.3 378.6,774.2 382.2,786.5 385.8,785.8 389.4,784.6 393,750 396.6,670.4 400.2,678.9 403.8,701.1 407.4,748.2 411,784.2 414.6,789.7 418.2,796.2 421.8,798 425.4,799.2 429,795.8 432.6,791.8 436.2,794.2 439.8,795.8 443.4,796.5 447,798.8 450.6,797.4 454.2,798 457.8,798.1 461.4,798.8 465,799.5 468.6,800.4 472.2,799 475.8,798.1 479.4,796.9 483,797.5 486.6,798.1 490.2,799.2 493.8,798.1 497.4,797.4" fill="none" stroke="#000" stroke-width="2.2" stroke-linejoin="round"/>
<path d="M313.9 793.8h7v7h-7zM317.5 793.1h7v7h-7zM321.1 795h7v7h-7zM324.7 794h7v7h-7zM328.3 792.7h7v7h-7zM331.9 794.5h7v7h-7zM335.5 795.7h7v7h-7zM339.1 793.8h7v7h-7zM342.7 795.7h7v7h-7zM346.3 794.5h7v7h-7zM349.9 794.5h7v7h-7zM353.5 793.5h7v7h-7zM357.1 789.9h7v7h-7zM360.7 789.2h7v7h-7zM364.3 788.5h7v7h-7zM367.9 788.5h7v7h-7zM371.5 778.8h7v7h-7zM375.1 770.7h7v7h-7zM378.7 783h7v7h-7zM382.3 782.3h7v7h-7zM385.9 781.1h7v7h-7zM389.5 746.5h7v7h-7zM393.1 666.9h7v7h-7zM396.7 675.4h7v7h-7zM400.3 697.6h7v7h-7zM403.9 744.7h7v7h-7zM407.5 780.7h7v7h-7zM411.1 786.2h7v7h-7zM414.7 792.7h7v7h-7zM418.3 794.5h7v7h-7zM421.9 795.7h7v7h-7zM425.5 792.3h7v7h-7zM429.1 788.3h7v7h-7zM432.7 790.7h7v7h-7zM436.3 792.3h7v7h-7zM439.9 793h7v7h-7zM443.5 795.3h7v7h-7zM447.1 793.9h7v7h-7zM450.7 794.5h7v7h-7zM454.3 794.6h7v7h-7zM457.9 795.3h7v7h-7zM461.5 796h7v7h-7zM465.1 796.9h7v7h-7zM468.7 795.5h7v7h-7zM472.3 794.6h7v7h-7zM475.9 793.4h7v7h-7zM479.5 794h7v7h-7zM483.1 794.6h7v7h-7zM486.7 795.7h7v7h-7zM490.3 794.6h7v7h-7zM493.9 793.9h7v7h-7z" fill="#000"/>
<text x="0" y="885" font-size="25" font-weight="bold" text-anchor="start" >B</text>
<text x="38.6" y="884" font-size="16.5" font-weight="bold">Effluxed Co<tspan font-size="10.8" font-weight="normal" dx="0.6" dy="-7.8">57</tspan><tspan dx="1.6" dy="7.8">-Cbl precipitated with anti-TC</tspan></text>
<text x="38.6" y="903.3" font-size="16.5" font-weight="bold" text-anchor="start" >and anti-HC andibodies</text>
<text x="128.7" y="949.2" font-size="16.6" font-weight="normal" text-anchor="start" >HeLa cells</text>
<line x1="68.9" y1="961.5" x2="68.9" y2="1152.8" stroke="#000" stroke-width="2" />
<line x1="66.9" y1="1151.8" x2="257" y2="1151.8" stroke="#000" stroke-width="2" />
<line x1="65.4" y1="1151.8" x2="68.9" y2="1151.8" stroke="#000" stroke-width="1.8" />
<text x="63" y="1155.8" font-size="11.4" font-weight="bold" text-anchor="end" >0</text>
<line x1="65.4" y1="1113.8" x2="68.9" y2="1113.8" stroke="#000" stroke-width="1.8" />
<text x="63" y="1117.8" font-size="11.4" font-weight="bold" text-anchor="end" >20</text>
<line x1="65.4" y1="1075.8" x2="68.9" y2="1075.8" stroke="#000" stroke-width="1.8" />
<text x="63" y="1079.8" font-size="11.4" font-weight="bold" text-anchor="end" >40</text>
<line x1="65.4" y1="1037.8" x2="68.9" y2="1037.8" stroke="#000" stroke-width="1.8" />
<text x="63" y="1041.8" font-size="11.4" font-weight="bold" text-anchor="end" >60</text>
<line x1="65.4" y1="999.8" x2="68.9" y2="999.8" stroke="#000" stroke-width="1.8" />
<text x="63" y="1003.8" font-size="11.4" font-weight="bold" text-anchor="end" >80</text>
<line x1="65.4" y1="961.8" x2="68.9" y2="961.8" stroke="#000" stroke-width="1.8" />
<text x="63" y="965.8" font-size="11.4" font-weight="bold" text-anchor="end" >100</text>
<line x1="118.7" y1="1151.8" x2="118.7" y2="1155.3" stroke="#000" stroke-width="1.5" />
<line x1="207.7" y1="1151.8" x2="207.7" y2="1155.3" stroke="#000" stroke-width="1.5" />
<line x1="106.75" y1="963.5" x2="106.75" y2="966.3" stroke="#000" stroke-width="1.6" />
<line x1="103.25" y1="963.5" x2="110.25" y2="963.5" stroke="#000" stroke-width="1.6" />
<rect x="98.1" y="966.3" width="17.3" height="185.5" fill="#000"/>
<line x1="133.05" y1="1147" x2="133.05" y2="1148.3" stroke="#000" stroke-width="1.6" />
<line x1="129.55" y1="1147" x2="136.55" y2="1147" stroke="#000" stroke-width="1.6" />
<rect x="125.3" y="1149.2" width="15.5" height="2.6" fill="#fff" stroke="#000" stroke-width="1.8"/>
<line x1="194.65" y1="1145.6" x2="194.65" y2="1147.9" stroke="#000" stroke-width="1.6" />
<line x1="191.15" y1="1145.6" x2="198.15" y2="1145.6" stroke="#000" stroke-width="1.6" />
<rect x="186" y="1147.9" width="17.3" height="3.9" fill="#000"/>
<line x1="221.25" y1="1147" x2="221.25" y2="1148.8" stroke="#000" stroke-width="1.6" />
<line x1="217.75" y1="1147" x2="224.75" y2="1147" stroke="#000" stroke-width="1.6" />
<rect x="213.8" y="1149.7" width="14.9" height="2.1" fill="#fff" stroke="#000" stroke-width="1.8"/>
<rect x="125.4" y="974.5" width="134.8" height="56.7" fill="none" stroke="#606060" stroke-width="1"/>
<rect x="131" y="988.4" width="29" height="8.8" fill="#000"/>
<rect x="131.9" y="1008.9" width="27.2" height="7.6" fill="#fff" stroke="#000" stroke-width="1.8"/>
<text x="165.2" y="997.4" font-size="13.5" font-weight="normal" text-anchor="start" >Anti TC-beads</text>
<text x="165.2" y="1017.4" font-size="13.5" font-weight="normal" text-anchor="start" >Anti HC-beads</text>
<text transform="translate(37.4,1091.3) rotate(-90)" font-size="16.6" font-weight="bold" text-anchor="start">% of total</text>
<text x="116.3" y="1166.3" font-size="11.6" font-weight="bold" text-anchor="middle" >Control</text>
<text x="204.7" y="1166.3" font-size="11.8" font-weight="normal" text-anchor="middle" >+ 1µM Cbl</text>
<text x="377.7" y="949.2" font-size="16.6" font-weight="normal" text-anchor="start" >Fibroblasts</text>
<line x1="314.2" y1="961.5" x2="314.2" y2="1152.8" stroke="#000" stroke-width="2" />
<line x1="312.2" y1="1151.8" x2="500.4" y2="1151.8" stroke="#000" stroke-width="2" />
<line x1="310.7" y1="1151.8" x2="314.2" y2="1151.8" stroke="#000" stroke-width="1.8" />
<text x="306.6" y="1155.8" font-size="11.4" font-weight="bold" text-anchor="end" >0</text>
<line x1="310.7" y1="1113.8" x2="314.2" y2="1113.8" stroke="#000" stroke-width="1.8" />
<text x="306.6" y="1117.8" font-size="11.4" font-weight="bold" text-anchor="end" >20</text>
<line x1="310.7" y1="1075.8" x2="314.2" y2="1075.8" stroke="#000" stroke-width="1.8" />
<text x="306.6" y="1079.8" font-size="11.4" font-weight="bold" text-anchor="end" >40</text>
<line x1="310.7" y1="1037.8" x2="314.2" y2="1037.8" stroke="#000" stroke-width="1.8" />
<text x="306.6" y="1041.8" font-size="11.4" font-weight="bold" text-anchor="end" >60</text>
<line x1="310.7" y1="999.8" x2="314.2" y2="999.8" stroke="#000" stroke-width="1.8" />
<text x="306.6" y="1003.8" font-size="11.4" font-weight="bold" text-anchor="end" >80</text>
<line x1="310.7" y1="961.8" x2="314.2" y2="961.8" stroke="#000" stroke-width="1.8" />
<text x="306.6" y="965.8" font-size="11.4" font-weight="bold" text-anchor="end" >100</text>
<line x1="355.8" y1="1151.8" x2="355.8" y2="1155.3" stroke="#000" stroke-width="1.5" />
<line x1="444.3" y1="1151.8" x2="444.3" y2="1155.3" stroke="#000" stroke-width="1.5" />
<line x1="342.85" y1="986.9" x2="342.85" y2="995.3" stroke="#000" stroke-width="1.6" />
<line x1="339.35" y1="986.9" x2="346.35" y2="986.9" stroke="#000" stroke-width="1.6" />
<rect x="334.4" y="995.3" width="16.9" height="156.5" fill="#000"/>
<line x1="368.95" y1="1145.8" x2="368.95" y2="1147.1" stroke="#000" stroke-width="1.6" />
<line x1="365.45" y1="1145.8" x2="372.45" y2="1145.8" stroke="#000" stroke-width="1.6" />
<rect x="361.5" y="1148" width="14.9" height="3.8" fill="#fff" stroke="#000" stroke-width="1.8"/>
<line x1="430.8" y1="1143" x2="430.8" y2="1145.3" stroke="#000" stroke-width="1.6" />
<line x1="427.3" y1="1143" x2="434.3" y2="1143" stroke="#000" stroke-width="1.6" />
<rect x="421.9" y="1145.3" width="17.8" height="6.5" fill="#000"/>
<line x1="457.7" y1="1146.8" x2="457.7" y2="1148.1" stroke="#000" stroke-width="1.6" />
<line x1="454.2" y1="1146.8" x2="461.2" y2="1146.8" stroke="#000" stroke-width="1.6" />
<rect x="449.8" y="1149" width="15.8" height="2.8" fill="#fff" stroke="#000" stroke-width="1.8"/>
<rect x="365.4" y="974.5" width="134.8" height="56.7" fill="none" stroke="#606060" stroke-width="1"/>
<rect x="371" y="988.4" width="29" height="8.8" fill="#000"/>
<rect x="371.9" y="1008.9" width="27.2" height="7.6" fill="#fff" stroke="#000" stroke-width="1.8"/>
<text x="405.2" y="997.4" font-size="13.5" font-weight="normal" text-anchor="start" >Anti TC-beads</text>
<text x="405.2" y="1017.4" font-size="13.5" font-weight="normal" text-anchor="start" >Anti HC-beads</text>
<text transform="translate(282.7,1091.3) rotate(-90)" font-size="16.6" font-weight="bold" text-anchor="start">% of total</text>
<text x="352.7" y="1166.3" font-size="11.6" font-weight="bold" text-anchor="middle" >Control</text>
<text x="441.6" y="1166.3" font-size="11.8" font-weight="bold" text-anchor="middle" >+ 1µM Cbl</text>
</svg>
</body></html>
